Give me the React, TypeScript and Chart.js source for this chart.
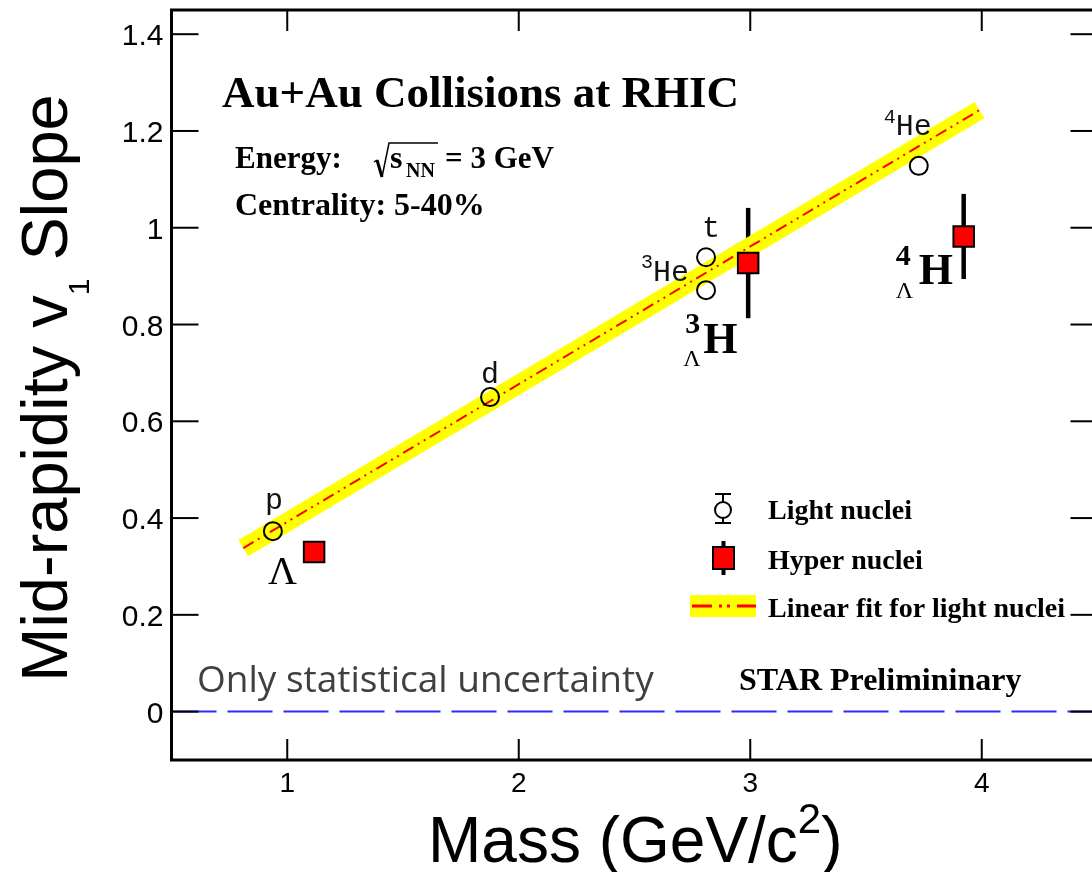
import React, { useEffect, useRef } from 'react';
import { Chart, registerables } from 'chart.js';

Chart.register(...registerables);

// ---------- data ----------
const lightNames = ['p', 'd', 't', '3He', '4He'];
const lightMass = [0.938, 1.876, 2.809, 2.809, 3.728];
const lightV1 = [0.373, 0.650, 0.939, 0.871, 1.128];
const lightErr = [0.004, 0.006, 0.010, 0.010, 0.015];

const hyperNames = ['Λ', '3ΛH', '4ΛH'];
const hyperMass = [1.116, 2.991, 3.922];
const hyperV1 = [0.330, 0.927, 0.982];
const hyperErr = [0.006, 0.114, 0.088];

const fitMass = [0.81, 3.99];
const fitV1 = [0.338, 1.243];

const xTicks = [1, 2, 3, 4];
const xTickLabels = ['1', '2', '3', '4'];
const yTicks = [0, 0.2, 0.4, 0.6, 0.8, 1, 1.2, 1.4];
const yTickLabels = ['0', '0.2', '0.4', '0.6', '0.8', '1', '1.2', '1.4'];
const xRange = [0.5, 4.5];
const yRange = [-0.1, 1.45];

const legendLabels = ['Light nuclei', 'Hyper nuclei', 'Linear fit for light nuclei'];

// ---------- fonts ----------
const SERIF = '"Liberation Serif", "Times New Roman", serif';
const SANS = '"Liberation Sans", Arial, sans-serif';
const MONO = '"Liberation Mono", "Courier New", monospace';

function txt(ctx: CanvasRenderingContext2D, s: string, x: number, y: number, font: string, align: CanvasTextAlign = 'left', color = '#000', baseline: CanvasTextBaseline = 'alphabetic') {
  ctx.font = font;
  ctx.fillStyle = color;
  ctx.textAlign = align;
  ctx.textBaseline = baseline;
  ctx.fillText(s, x, y);
}

const FIT_DASH = [12, 5, 2, 5, 2, 5];

const annotPlugin = {
  id: 'annot',
  beforeDatasetsDraw(chart: any) {
    const { ctx, chartArea: a, scales } = chart;
    const x = scales.x, y = scales.y;
    ctx.save();
    // zero dashed line
    const y0 = y.getPixelForValue(0);
    ctx.strokeStyle = '#2b2bf5';
    ctx.lineWidth = 2;
    ctx.setLineDash([45, 11]);
    ctx.beginPath();
    ctx.moveTo(a.left, y0);
    ctx.lineTo(a.right, y0);
    ctx.stroke();
    ctx.setLineDash([]);
    // hyper nuclei error bars
    ctx.strokeStyle = '#000';
    ctx.lineWidth = 4.5;
    hyperMass.forEach((m, i) => {
      const px = x.getPixelForValue(m);
      const top = y.getPixelForValue(hyperV1[i] + hyperErr[i]);
      const bot = y.getPixelForValue(hyperV1[i] - hyperErr[i]);
      ctx.beginPath();
      ctx.moveTo(px, top);
      ctx.lineTo(px, bot);
      ctx.stroke();
    });
    // light nuclei error bars (only the part outside the marker)
    ctx.lineWidth = 2;
    lightMass.forEach((m, i) => {
      const px = x.getPixelForValue(m);
      const py = y.getPixelForValue(lightV1[i]);
      const top = y.getPixelForValue(lightV1[i] + lightErr[i]);
      const bot = y.getPixelForValue(lightV1[i] - lightErr[i]);
      const r = 9;
      if (py - top > r) {
        ctx.beginPath(); ctx.moveTo(px, top); ctx.lineTo(px, py - r); ctx.stroke();
        ctx.beginPath(); ctx.moveTo(px, py + r); ctx.lineTo(px, bot); ctx.stroke();
      }
    });
    ctx.restore();
  },
  afterDatasetsDraw(chart: any) {
    const { ctx, chartArea: a, scales } = chart;
    const x = scales.x, y = scales.y;
    ctx.save();
    // frame
    ctx.strokeStyle = '#000';
    ctx.lineWidth = 3;
    ctx.strokeRect(a.left, a.top, a.right - a.left, a.bottom - a.top);
    // inward ticks + tick labels
    ctx.lineWidth = 2;
    xTicks.forEach((v, i) => {
      const px = x.getPixelForValue(v);
      ctx.strokeStyle = '#000';
      ctx.beginPath(); ctx.moveTo(px, a.bottom); ctx.lineTo(px, a.bottom - 21); ctx.stroke();
      ctx.beginPath(); ctx.moveTo(px, a.top); ctx.lineTo(px, a.top + 21); ctx.stroke();
      txt(ctx, xTickLabels[i], px, a.bottom + 32, `28px ${SANS}`, 'center');
    });
    yTicks.forEach((v, i) => {
      const py = y.getPixelForValue(v);
      ctx.strokeStyle = '#000';
      ctx.beginPath(); ctx.moveTo(a.left, py); ctx.lineTo(a.left + 27, py); ctx.stroke();
      ctx.beginPath(); ctx.moveTo(a.right, py); ctx.lineTo(a.right - 27, py); ctx.stroke();
      txt(ctx, yTickLabels[i], a.left - 8, py + 11, `30px ${SANS}`, 'right');
    });

    // light nuclei labels
    const mono = `30px ${MONO}`;
    const monoSup = `20px ${MONO}`;
    lightNames.forEach((name, i) => {
      const px = x.getPixelForValue(lightMass[i]);
      const py = y.getPixelForValue(lightV1[i]);
      if (name === 'p') txt(ctx, 'p', px + 1, py - 22, mono, 'center', '#111');
      else if (name === 'd') txt(ctx, 'd', px, py - 14, mono, 'center', '#111');
      else if (name === 't') txt(ctx, 't', px + 5, py - 20, mono, 'center', '#111');
      else if (name === '3He') {
        ctx.font = mono;
        const w = ctx.measureText('He').width;
        txt(ctx, 'He', px - 17, py - 9, mono, 'right', '#111');
        txt(ctx, '3', px - 17 - w, py - 22, monoSup, 'right', '#111');
      } else if (name === '4He') {
        txt(ctx, 'He', px - 23, py - 31, mono, 'left', '#111');
        txt(ctx, '4', px - 23, py - 43, monoSup, 'right', '#111');
      }
    });

    // hyper nuclei labels
    hyperNames.forEach((name, i) => {
      const px = x.getPixelForValue(hyperMass[i]);
      const py = y.getPixelForValue(hyperV1[i]);
      if (name === 'Λ') {
        txt(ctx, 'Λ', px - 46, py + 32, `40px ${SERIF}`);
      } else if (name === '3ΛH') {
        txt(ctx, '3', px - 63, py + 70, `bold 30px ${SERIF}`);
        txt(ctx, 'H', px - 45, py + 90, `bold 44px ${SERIF}`);
        txt(ctx, 'Λ', px - 65, py + 103, `24px ${SERIF}`);
      } else if (name === '4ΛH') {
        txt(ctx, '4', px - 68, py + 29, `bold 30px ${SERIF}`);
        txt(ctx, 'H', px - 45, py + 48, `bold 44px ${SERIF}`);
        txt(ctx, 'Λ', px - 68, py + 62, `24px ${SERIF}`);
      }
    });

    // header texts
    txt(ctx, 'Au+Au Collisions at RHIC', 222, 107, `bold 45px ${SERIF}`);
    txt(ctx, 'Energy:', 235, 168, `bold 31px ${SERIF}`);
    // radical sign
    ctx.strokeStyle = '#000';
    ctx.lineWidth = 1.5;
    ctx.beginPath();
    ctx.moveTo(374, 162);
    ctx.lineTo(377, 160);
    ctx.stroke();
    ctx.lineWidth = 3;
    ctx.beginPath();
    ctx.moveTo(377, 160);
    ctx.lineTo(382, 177);
    ctx.stroke();
    ctx.lineWidth = 1.5;
    ctx.beginPath();
    ctx.moveTo(382, 177);
    ctx.lineTo(389, 143);
    ctx.lineTo(438, 143);
    ctx.stroke();
    txt(ctx, 's', 390, 168, `bold 32px ${SERIF}`);
    txt(ctx, 'NN', 406, 177, `bold 20px ${SERIF}`);
    txt(ctx, '= 3 GeV', 445, 168, `bold 31px ${SERIF}`);
    txt(ctx, 'Centrality: 5-40%', 235, 215, `bold 32px ${SERIF}`);

    txt(ctx, 'Only statistical uncertainty', 197, 692, `37px "Open Sans", "Noto Sans", sans-serif`, 'left', '#404040');
    txt(ctx, 'STAR Prelimininary', 739, 690, `bold 32px ${SERIF}`);

    // legend
    const lf = `bold 28px ${SERIF}`;
    // light nuclei marker
    ctx.strokeStyle = '#000';
    ctx.lineWidth = 2;
    ctx.beginPath(); ctx.arc(723, 510, 8, 0, Math.PI * 2); ctx.stroke();
    ctx.beginPath();
    ctx.moveTo(723, 494); ctx.lineTo(723, 502);
    ctx.moveTo(723, 518); ctx.lineTo(723, 523);
    ctx.moveTo(715, 494); ctx.lineTo(731, 494);
    ctx.moveTo(715, 523); ctx.lineTo(731, 523);
    ctx.stroke();
    txt(ctx, legendLabels[0], 768, 519, lf);
    // hyper nuclei marker
    ctx.lineWidth = 4;
    ctx.beginPath(); ctx.moveTo(723.5, 541); ctx.lineTo(723.5, 575); ctx.stroke();
    ctx.fillStyle = '#ff0000';
    ctx.fillRect(713, 547, 21, 22);
    ctx.lineWidth = 2;
    ctx.strokeRect(713, 547, 21, 22);
    txt(ctx, legendLabels[1], 768, 569, lf);
    // fit marker
    ctx.fillStyle = '#ffff00';
    ctx.fillRect(690, 595, 66, 22);
    ctx.strokeStyle = '#ff0000';
    ctx.lineWidth = 3;
    ctx.setLineDash([20, 7, 3, 5, 3, 7]);
    ctx.beginPath(); ctx.moveTo(692, 606); ctx.lineTo(756, 606); ctx.stroke();
    ctx.setLineDash([]);
    txt(ctx, legendLabels[2], 768, 617, lf);

    // axis titles
    ctx.save();
    ctx.translate(67, 388);
    ctx.rotate(-Math.PI / 2);
    const tf = `65px ${SANS}`;
    const sf = `30px ${SANS}`;
    ctx.font = tf;
    const w1 = ctx.measureText('Mid-rapidity v').width;
    const w3 = ctx.measureText(' Slope').width;
    ctx.font = sf;
    const w2 = ctx.measureText('1').width;
    const tot = w1 + w2 + w3;
    const sx = -tot / 2;
    txt(ctx, 'Mid-rapidity v', sx, 0, tf);
    txt(ctx, '1', sx + w1, 22, sf);
    txt(ctx, ' Slope', sx + w1 + w2, 0, tf);
    ctx.restore();

    const xf = `64px ${SANS}`;
    const xs = `42px ${SANS}`;
    ctx.font = xf;
    const m1 = ctx.measureText('Mass (GeV/c').width;
    ctx.font = xs;
    const m2 = ctx.measureText('2').width;
    txt(ctx, 'Mass (GeV/c', 428, 862, xf);
    txt(ctx, '2', 428 + m1, 833, xs);
    txt(ctx, ')', 428 + m1 + m2, 862, xf);

    ctx.restore();
  },
};

function fixBox(s: any, dim: 'width' | 'height', size: number) {
  s[dim] = size;
  s.paddingTop = 0;
  s.paddingBottom = 0;
  s.paddingLeft = 0;
  s.paddingRight = 0;
}

export default function App() {
  const ref = useRef<HTMLCanvasElement>(null);
  useEffect(() => {
    const canvas = ref.current!;
    const chart = new Chart(canvas, {
      type: 'line',
      data: {
        datasets: [
          {
            label: 'fitBand',
            data: fitMass.map((m, i) => ({ x: m, y: fitV1[i] })),
            borderColor: '#ffff00',
            borderWidth: 19,
            pointRadius: 0,
            order: 4,
          },
          {
            label: 'fitLine',
            data: fitMass.map((m, i) => ({ x: m, y: fitV1[i] })),
            borderColor: '#ff0000',
            borderWidth: 2,
            borderDash: FIT_DASH,
            pointRadius: 0,
            order: 3,
          },
          {
            label: 'Light nuclei',
            data: lightMass.map((m, i) => ({ x: m, y: lightV1[i] })),
            showLine: false,
            pointStyle: 'circle',
            pointRadius: 9,
            pointBorderWidth: 2,
            pointBorderColor: '#000',
            pointBackgroundColor: 'rgba(0,0,0,0)',
            order: 2,
          },
          {
            label: 'Hyper nuclei',
            data: hyperMass.map((m, i) => ({ x: m, y: hyperV1[i] })),
            showLine: false,
            pointStyle: 'rect',
            pointRadius: 14.5,
            pointBorderWidth: 2,
            pointBorderColor: '#000',
            pointBackgroundColor: '#ff0000',
            order: 1,
          },
        ],
      } as any,
      options: {
        animation: false,
        responsive: false,
        events: [],
        layout: { autoPadding: false, padding: { top: 10, right: 2.5, left: 0, bottom: 0 } },
        plugins: { legend: { display: false }, tooltip: { enabled: false } },
        scales: {
          x: {
            type: 'linear',
            min: xRange[0],
            max: xRange[1],
            grid: { display: false, drawTicks: false },
            border: { display: false },
            ticks: { display: false },
            afterBuildTicks: (s: any) => { s.ticks = xTicks.map((v) => ({ value: v })); },
            afterFit: (s: any) => fixBox(s, 'height', 112),
          },
          y: {
            type: 'linear',
            min: yRange[0],
            max: yRange[1],
            grid: { display: false, drawTicks: false },
            border: { display: false },
            ticks: { display: false },
            afterBuildTicks: (s: any) => { s.ticks = yTicks.map((v) => ({ value: v })); },
            afterFit: (s: any) => fixBox(s, 'width', 171.5),
          },
        },
      } as any,
      plugins: [annotPlugin],
    });
    return () => chart.destroy();
  }, []);
  return (
    <div style={{ position: 'absolute', left: 0, top: 0, width: 1092, height: 872, overflow: 'hidden', background: '#fff' }}>
      <canvas ref={ref} width={1100} height={872} style={{ display: 'block', width: 1100, height: 872 }} />
    </div>
  );
}
